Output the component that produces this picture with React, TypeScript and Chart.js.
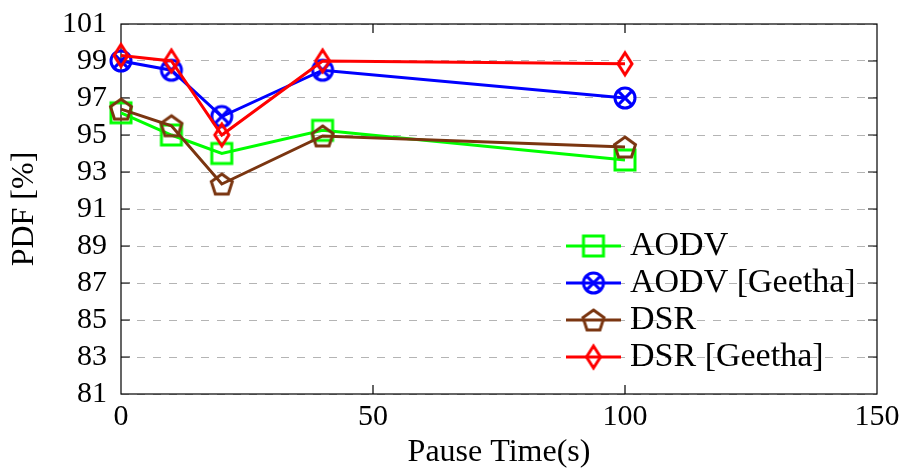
import React, { useEffect, useRef } from "react";
import { Chart, registerables } from "chart.js";

Chart.register(...registerables);

// ---- data ----
const pauseTimes = [0, 10, 20, 40, 100];
const aodv = [96.2, 95.0, 94.0, 95.25, 93.65];
const aodvGeetha = [99.0, 98.5, 96.0, 98.5, 97.0];
const dsr = [96.4, 95.5, 92.35, 94.95, 94.35];
const dsrGeetha = [99.3, 99.0, 95.0, 99.0, 98.85];
const seriesLabels = ["AODV", "AODV [Geetha]", "DSR", "DSR [Geetha]"];
const xTicks = [0, 50, 100, 150];
const yTicks = [81, 83, 85, 87, 89, 91, 93, 95, 97, 99, 101];
const xTitle = "Pause Time(s)";
const yTitle = "PDF [%]";

const FONT = "'Liberation Serif', 'Times New Roman', serif";
const LW = 3;

function makeMarker(kind: string, color: string): HTMLCanvasElement {
  const c = document.createElement("canvas");
  c.width = 30;
  c.height = 30;
  const g = c.getContext("2d")!;
  g.strokeStyle = color;
  g.lineWidth = LW;
  g.lineJoin = "miter";
  const cx = 15;
  const cy = 15;
  g.beginPath();
  if (kind === "square") {
    g.rect(cx - 10, cy - 10, 20, 20);
  } else if (kind === "otimes") {
    g.arc(cx, cy, 10, 0, Math.PI * 2);
    const d = 10 * Math.SQRT1_2;
    g.moveTo(cx - d, cy - d);
    g.lineTo(cx + d, cy + d);
    g.moveTo(cx + d, cy - d);
    g.lineTo(cx - d, cy + d);
  } else if (kind === "pentagon") {
    for (let k = 0; k < 5; k++) {
      const a = -Math.PI / 2 + (k * 2 * Math.PI) / 5;
      const px = cx + 11 * Math.cos(a);
      const py = cy + 1 + 11 * Math.sin(a);
      if (k === 0) g.moveTo(px, py);
      else g.lineTo(px, py);
    }
    g.closePath();
  } else if (kind === "diamond") {
    g.moveTo(cx, cy - 11);
    g.lineTo(cx + 7, cy);
    g.lineTo(cx, cy + 11);
    g.lineTo(cx - 7, cy);
    g.closePath();
  }
  g.stroke();
  return c;
}

const framePlugin = {
  id: "frame",
  beforeDatasetsDraw(chart: any) {
    const { ctx, chartArea: a, scales } = chart;
    ctx.save();
    ctx.strokeStyle = "#000";
    ctx.lineWidth = 1.2;
    ctx.strokeRect(a.left, a.top, a.right - a.left, a.bottom - a.top);
    const tl = 9;
    ctx.beginPath();
    xTicks.forEach((v) => {
      const px = scales.x.getPixelForValue(v);
      if (px > a.left + 1 && px < a.right - 1) {
        ctx.moveTo(px, a.bottom);
        ctx.lineTo(px, a.bottom - tl);
        ctx.moveTo(px, a.top);
        ctx.lineTo(px, a.top + tl);
      }
    });
    yTicks.forEach((v) => {
      const py = scales.y.getPixelForValue(v);
      if (py > a.top + 1 && py < a.bottom - 1) {
        ctx.moveTo(a.left, py);
        ctx.lineTo(a.left + tl, py);
        ctx.moveTo(a.right, py);
        ctx.lineTo(a.right - tl, py);
      }
    });
    ctx.stroke();
    ctx.restore();
  },
};

const legendPlugin = {
  id: "insideLegend",
  afterDatasetsDraw(chart: any) {
    const { ctx, chartArea: a } = chart;
    const ds = chart.data.datasets;
    ctx.save();
    ctx.font = `34px ${FONT}`;
    ctx.textBaseline = "middle";
    ctx.textAlign = "left";
    ctx.fillStyle = "#000";
    ds.forEach((d: any, i: number) => {
      const y = a.bottom - 37 * (ds.length - i);
      const x0 = a.right - 311;
      ctx.strokeStyle = d.borderColor;
      ctx.lineWidth = LW;
      ctx.beginPath();
      ctx.moveTo(x0, y);
      ctx.lineTo(x0 + 55, y);
      ctx.stroke();
      const img = d.pointStyle as HTMLCanvasElement;
      ctx.drawImage(img, x0 + 27.5 - img.width / 2, y - img.height / 2);
      ctx.fillText(d.label, a.right - 247, y);
    });
    ctx.restore();
  },
};

export default function App() {
  const ref = useRef<HTMLCanvasElement>(null);
  useEffect(() => {
    document.body.style.margin = "0";
    const canvas = ref.current!;
    const colors = ["#00ff00", "#0000ff", "#7a3510", "#ff0000"];
    const kinds = ["square", "otimes", "pentagon", "diamond"];
    const values = [aodv, aodvGeetha, dsr, dsrGeetha];
    const datasets = values.map((vals, i) => ({
      label: seriesLabels[i],
      data: pauseTimes.map((x, j) => ({ x, y: vals[j] })),
      borderColor: colors[i],
      backgroundColor: colors[i],
      borderWidth: LW,
      pointStyle: makeMarker(kinds[i], colors[i]),
      pointRadius: 10,
      pointHoverRadius: 10,
      tension: 0,
      clip: false,
      order: values.length - i,
    }));
    const chart = new Chart(canvas, {
      type: "line",
      data: { datasets },
      plugins: [framePlugin, legendPlugin],
      options: {
        animation: false,
        responsive: false,
        events: [],
        layout: { padding: { top: 24, right: 29, bottom: 0, left: 0 } },
        plugins: { legend: { display: false }, tooltip: { enabled: false } },
        scales: {
          x: {
            type: "linear",
            min: 0,
            max: 150,
            afterBuildTicks: (s: any) => {
              s.ticks = xTicks.map((v) => ({ value: v }));
            },
            afterFit: (s: any) => {
              s.height = 82;
              s.paddingLeft = 0;
              s.paddingRight = 0;
            },
            ticks: {
              font: { family: FONT, size: 30 },
              color: "#000",
              padding: 5,
              maxRotation: 0,
              autoSkip: false,
            },
            grid: { display: false, drawTicks: false },
            border: { display: false },
            title: {
              display: true,
              text: xTitle,
              font: { family: FONT, size: 32 },
              color: "#000",
              padding: { top: 0, bottom: 4 },
            },
          },
          y: {
            type: "linear",
            min: 81,
            max: 101,
            afterBuildTicks: (s: any) => {
              s.ticks = yTicks.map((v) => ({ value: v }));
            },
            afterFit: (s: any) => {
              s.width = 121;
              s.paddingTop = 0;
              s.paddingBottom = 0;
            },
            ticks: {
              font: { family: FONT, size: 30 },
              color: "#000",
              padding: 14,
              autoSkip: false,
            },
            grid: { color: "#b4b4b4", lineWidth: 1, drawTicks: false },
            border: { display: false, dash: [8, 8] },
            title: {
              display: true,
              text: yTitle,
              font: { family: FONT, size: 32 },
              color: "#000",
              padding: { top: 5, bottom: 0 },
            },
          },
        },
      } as any,
    });
    return () => chart.destroy();
  }, []);
  return (
    <canvas
      ref={ref}
      width={906}
      height={476}
      style={{ display: "block", width: 906, height: 476 }}
    />
  );
}
